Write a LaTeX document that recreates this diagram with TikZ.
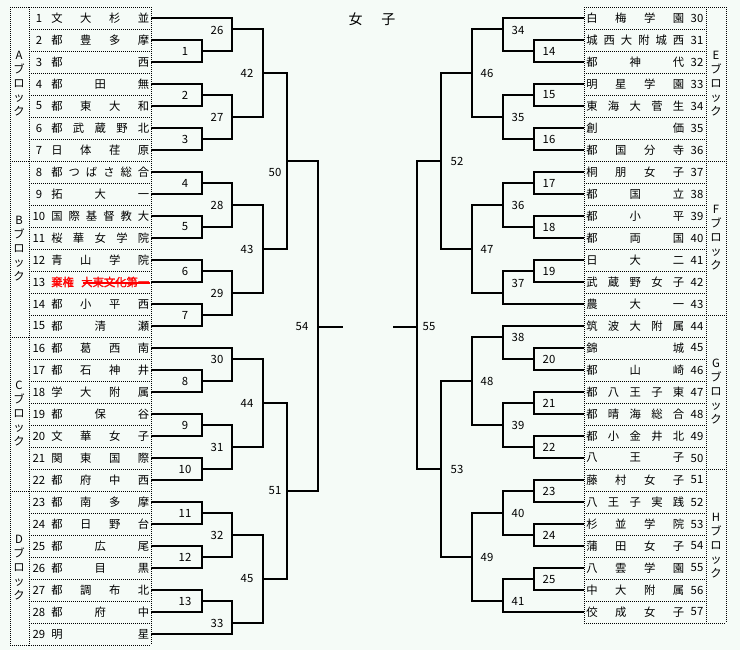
\documentclass[tikz,border=0pt]{standalone}
\usepackage{fontspec}
\setmainfont{Noto Sans CJK JP}
\newfontfamily\redfont[FakeBold=1.2]{Noto Sans CJK JP}
\definecolor{bg}{RGB}{245,251,247}
\newcommand\spreadname[1]{\hbox to 73.5pt{\spaceskip=0pt plus 1fil\xspaceskip=0pt plus 1fil\relax\ignorespaces#1\unskip}}
\begin{document}
\begin{tikzpicture}[x=0.75pt,y=-0.75pt,
  txt/.style={inner sep=0pt, font=\fontsize{8.5}{10}\selectfont},
  blk/.style={inner sep=0pt, align=center, font=\fontsize{8.5}{10.5}\selectfont},
  brk/.style={line width=0.8pt, black},
  dotl/.style={line width=0.75pt, dash pattern=on 0.75pt off 0.75pt, black}]
\fill[bg] (0,0) rectangle (740,650);
\useasboundingbox (0,0) rectangle (740,650);

% title
\node[inner sep=0pt, font=\fontsize{10.5}{12}\selectfont] (title) at (372,19) {女\hspace{14pt}子};

% left table dotted grid
\foreach \k in {0,...,29} \draw[dotl] (29,{7+22*\k}) -- (151,{7+22*\k});
\foreach \k in {0,7,15,22,29} \draw[dotl] (10,{7+22*\k}) -- (29,{7+22*\k});
\foreach \xx in {10,29,151} \draw[dotl] (\xx,7) -- (\xx,645);
% right table dotted grid
\foreach \k in {0,...,28} \draw[dotl] (584,{7+22*\k}) -- (706,{7+22*\k});
\foreach \k in {0,7,14,21,28} \draw[dotl] (706,{7+22*\k}) -- (726,{7+22*\k});
\foreach \xx in {584,706,726} \draw[dotl] (\xx,7) -- (\xx,623);

% block labels
\node[blk] (bA) at (19,84) {A\\ブ\\ロ\\ッ\\ク};
\node[blk] (bB) at (19,249) {B\\ブ\\ロ\\ッ\\ク};
\node[blk] (bC) at (19,414) {C\\ブ\\ロ\\ッ\\ク};
\node[blk] (bD) at (19,568) {D\\ブ\\ロ\\ッ\\ク};
\node[blk] (bE) at (716,84) {E\\ブ\\ロ\\ッ\\ク};
\node[blk] (bF) at (716,238) {F\\ブ\\ロ\\ッ\\ク};
\node[blk] (bG) at (716,392) {G\\ブ\\ロ\\ッ\\ク};
\node[blk] (bH) at (716,546) {H\\ブ\\ロ\\ッ\\ク};

% left teams
\foreach \i/\nm in {1/文 大 杉 並,2/都 豊 多 摩,3/都 西,4/都 田 無,5/都 東 大 和,6/都 武 蔵 野 北,7/日 体 荏 原,8/都 つ ば さ 総 合,9/拓 大 一,10/国 際 基 督 教 大,11/桜 華 女 学 院,12/青 山 学 院,14/都 小 平 西,15/都 清 瀬,16/都 葛 西 南,17/都 石 神 井,18/学 大 附 属,19/都 保 谷,20/文 華 女 子,21/関 東 国 際,22/都 府 中 西,23/都 南 多 摩,24/都 日 野 台,25/都 広 尾,26/都 目 黒,27/都 調 布 北,28/都 府 中,29/明 星}{
  \pgfmathsetmacro\yy{18+22*(\i-1)}
  \coordinate (T\i) at (151,\yy);
  \node[txt] (n\i) at (39,\yy) {\i};
  \node[txt, anchor=west] (t\i) at (51,\yy) {\spreadname{\nm}};
}
% team 13 (withdrawn)
\coordinate (T13) at (151,282);
\node[txt] (n13) at (39,282) {13};
\node[txt, anchor=west, text=red] (t13) at (51,282) {\hbox to 73.5pt{\redfont 棄権\hfil 大東文化第一}};
\coordinate (s13a) at (83,283);
\coordinate (s13b) at (150,283);
\draw[red, line width=0.8pt] (s13a) -- (s13b);

% right teams
\foreach \i/\nm in {30/白 梅 学 園,31/城 西 大 附 城 西,32/都 神 代,33/明 星 学 園,34/東 海 大 菅 生,35/創 価,36/都 国 分 寺,37/桐 朋 女 子,38/都 国 立,39/都 小 平,40/都 両 国,41/日 大 二,42/武 蔵 野 女 子,43/農 大 一,44/筑 波 大 附 属,45/錦 城,46/都 山 崎,47/都 八 王 子 東,48/都 晴 海 総 合,49/都 小 金 井 北,50/八 王 子,51/藤 村 女 子,52/八 王 子 実 践,53/杉 並 学 院,54/蒲 田 女 子,55/八 雲 学 園,56/中 大 附 属,57/佼 成 女 子}{
  \pgfmathsetmacro\yy{18+22*(\i-30)}
  \coordinate (T\i) at (584,\yy);
  \node[txt] (n\i) at (697,\yy) {\i};
  \node[txt, anchor=west] (t\i) at (586,\yy) {\spreadname{\nm}};
}

% match points
\foreach \m/\x/\y in {1/202/51,2/202/95,3/202/139,4/202/183,5/202/227,6/202/271,7/202/315,8/202/381,9/202/425,10/202/469,11/202/513,12/202/557,13/202/601,
  26/232/29,27/232/117,28/232/205,29/232/293,30/232/359,31/232/447,32/232/535,33/232/623,
  42/263/73,43/263/249,44/263/403,45/263/579,50/287/161,51/287/491,54/318/327,
  14/534/51,15/534/95,16/534/139,17/534/183,18/534/227,19/534/271,20/534/359,21/534/403,22/534/447,23/534/491,24/534/535,25/534/579,
  34/503/29,35/503/117,36/503/205,37/503/293,38/503/337,39/503/425,40/503/513,41/503/601,
  46/472/73,47/472/249,48/472/381,49/472/557,52/441/161,53/441/469,55/417/327}
  \coordinate (M\m) at (\x,\y);

% brackets
\foreach \m/\a/\b in {1/T2/T3,2/T4/T5,3/T6/T7,4/T8/T9,5/T10/T11,6/T12/T13,7/T14/T15,8/T17/T18,9/T19/T20,10/T21/T22,11/T23/T24,12/T25/T26,13/T27/T28,
  26/T1/M1,27/M2/M3,28/M4/M5,29/M6/M7,30/T16/M8,31/M9/M10,32/M11/M12,33/M13/T29,
  42/M26/M27,43/M28/M29,44/M30/M31,45/M32/M33,50/M42/M43,51/M44/M45,54/M50/M51,
  14/T31/T32,15/T33/T34,16/T35/T36,17/T37/T38,18/T39/T40,19/T41/T42,20/T45/T46,21/T47/T48,22/T49/T50,23/T51/T52,24/T53/T54,25/T55/T56,
  34/T30/M14,35/M15/M16,36/M17/M18,37/M19/T43,38/T44/M20,39/M21/M22,40/M23/M24,41/M25/T57,
  46/M34/M35,47/M36/M37,48/M38/M39,49/M40/M41,52/M46/M47,53/M48/M49,55/M52/M53}
  \draw[brk] (\a) -- (\a -| M\m) -- (\b -| M\m) -- (\b);

\coordinate (E54) at (343,327);
\coordinate (E55) at (393,327);
\draw[brk] (M54) -- (E54);
\draw[brk] (M55) -- (E55);

% match labels
\foreach \m/\x/\y in {1/185/51,2/185/95,3/185/139,4/185/183,5/185/227,6/185/271,7/185/315,8/185/381,9/185/425,10/185/469,11/185/513,12/185/557,13/185/601,
  26/217/30,27/217/117,28/217/205,29/217/293,30/217/359,31/217/447,32/217/535,33/217/623,
  42/247/73,43/247/249,44/247/403,45/247/579,50/275/172,51/275/491,54/302/327,
  14/549/51,15/549/95,16/549/139,17/549/183,18/549/227,19/549/271,20/549/359,21/549/403,22/549/447,23/549/491,24/549/535,25/549/579,
  34/518/30,35/518/117,36/518/205,37/518/283,38/518/337,39/518/425,40/518/513,41/518/601,
  46/487/73,47/487/249,48/487/381,49/487/557,52/457/161,53/457/469,55/429/327}
  \node[txt] (L\m) at (\x,\y) {\m};
\end{tikzpicture}
\end{document}
